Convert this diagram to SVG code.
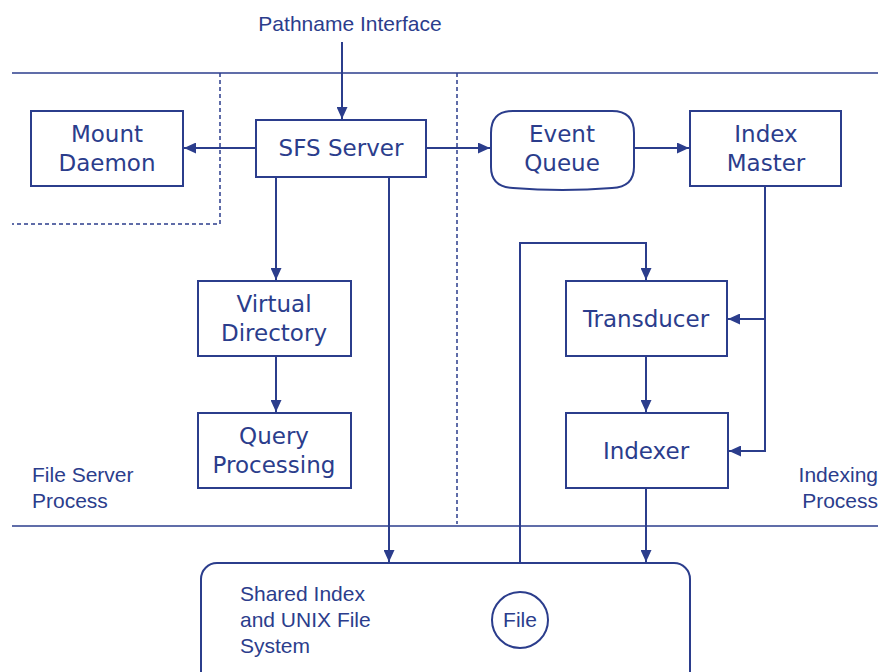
<svg xmlns="http://www.w3.org/2000/svg" width="881" height="672" viewBox="0 0 881 672">
  <style>
    .box { fill: #ffffff; stroke: #2b3d8c; stroke-width: 2; }
    .line { fill: none; stroke: #2b3d8c; stroke-width: 2; }
    .thin { fill: none; stroke: #2b3d8c; stroke-width: 1.3; }
    .dash { fill: none; stroke: #2b3d8c; stroke-width: 1.5; stroke-dasharray: 4 3; }
    .lbl { font-family: "DejaVu Sans", Verdana, sans-serif; font-size: 23px; fill: #2b3d8c; text-anchor: middle; }
    .note { font-family: "Liberation Sans", Arial, sans-serif; font-size: 21px; fill: #2b3d8c; }
  </style>
  <defs>
    <marker id="arr" viewBox="0 0 12 11" refX="12" refY="5.5" markerWidth="12" markerHeight="11" markerUnits="userSpaceOnUse" orient="auto">
      <path d="M0,0 L12,5.5 L0,11 z" fill="#2b3d8c"/>
    </marker>
  </defs>
  <rect width="881" height="672" fill="#ffffff"/>

  <!-- process boundaries -->
  <g id="boundaries">
    <line class="thin" x1="12" y1="73" x2="878" y2="73"/>
    <line class="thin" x1="12" y1="526" x2="878" y2="526"/>
    <polyline class="dash" points="220,73 220,224 12,224"/>
    <line class="dash" x1="457" y1="73" x2="457" y2="524"/>
  </g>

  <!-- connectors -->
  <g id="connectors">
    <line class="line" x1="342" y1="42" x2="342" y2="119" marker-end="url(#arr)"/>
    <line class="line" x1="256" y1="148" x2="184" y2="148" marker-end="url(#arr)"/>
    <line class="line" x1="426" y1="148" x2="490" y2="148" marker-end="url(#arr)"/>
    <line class="line" x1="634" y1="148" x2="689" y2="148" marker-end="url(#arr)"/>
    <line class="line" x1="276" y1="177" x2="276" y2="280" marker-end="url(#arr)"/>
    <line class="line" x1="276" y1="356" x2="276" y2="412" marker-end="url(#arr)"/>
    <line class="line" x1="389" y1="177" x2="389" y2="562" marker-end="url(#arr)"/>
    <polyline class="line" points="765,186 765,451 729,451" marker-end="url(#arr)"/>
    <line class="line" x1="765" y1="319" x2="728" y2="319" marker-end="url(#arr)"/>
    <line class="line" x1="646" y1="356" x2="646" y2="412" marker-end="url(#arr)"/>
    <line class="line" x1="646" y1="488" x2="646" y2="562" marker-end="url(#arr)"/>
    <polyline class="line" points="520,592 520,243 646,243 646,280" marker-end="url(#arr)"/>
  </g>

  <text class="note" x="350" y="31" text-anchor="middle">Pathname Interface</text>

  <g id="mount-daemon">
    <rect class="box" x="31" y="111" width="152" height="75"/>
    <text class="lbl" x="107" y="142">Mount</text>
    <text class="lbl" x="107" y="171">Daemon</text>
  </g>

  <g id="sfs-server">
    <rect class="box" x="256" y="120" width="170" height="57"/>
    <text class="lbl" x="341" y="156">SFS Server</text>
  </g>

  <g id="event-queue">
    <path class="box" d="M513,111 H612 Q634,111 634,133 V167 Q634,187 612,188 Q562,192 513,188 Q491,187 491,167 V133 Q491,111 513,111 Z"/>
    <text class="lbl" x="562" y="142">Event</text>
    <text class="lbl" x="562" y="171">Queue</text>
  </g>

  <g id="index-master">
    <rect class="box" x="690" y="111" width="151" height="75"/>
    <text class="lbl" x="766" y="142">Index</text>
    <text class="lbl" x="766" y="171">Master</text>
  </g>

  <g id="virtual-directory">
    <rect class="box" x="198" y="281" width="153" height="75"/>
    <text class="lbl" x="274" y="312">Virtual</text>
    <text class="lbl" x="274" y="341">Directory</text>
  </g>

  <g id="query-processing">
    <rect class="box" x="198" y="413" width="153" height="75"/>
    <text class="lbl" x="274" y="444">Query</text>
    <text class="lbl" x="274" y="473">Processing</text>
  </g>

  <g id="transducer">
    <rect class="box" x="566" y="281" width="161" height="75"/>
    <text class="lbl" x="646" y="327">Transducer</text>
  </g>

  <g id="indexer">
    <rect class="box" x="566" y="413" width="162" height="75"/>
    <text class="lbl" x="646" y="459">Indexer</text>
  </g>

  <g id="process-labels">
    <text class="note" x="32" y="482">File Server</text>
    <text class="note" x="32" y="508">Process</text>
    <text class="note" x="878" y="482" text-anchor="end">Indexing</text>
    <text class="note" x="878" y="508" text-anchor="end">Process</text>
  </g>

  <g id="shared-index">
    <rect class="box" x="201" y="563" width="489" height="130" rx="16"/>
    <text class="note" x="240" y="601">Shared Index</text>
    <text class="note" x="240" y="627">and UNIX File</text>
    <text class="note" x="240" y="653">System</text>
  </g>

  <g id="file">
    <circle class="box" cx="520" cy="620" r="28"/>
    <text class="note" x="520" y="627" text-anchor="middle">File</text>
  </g>
</svg>
